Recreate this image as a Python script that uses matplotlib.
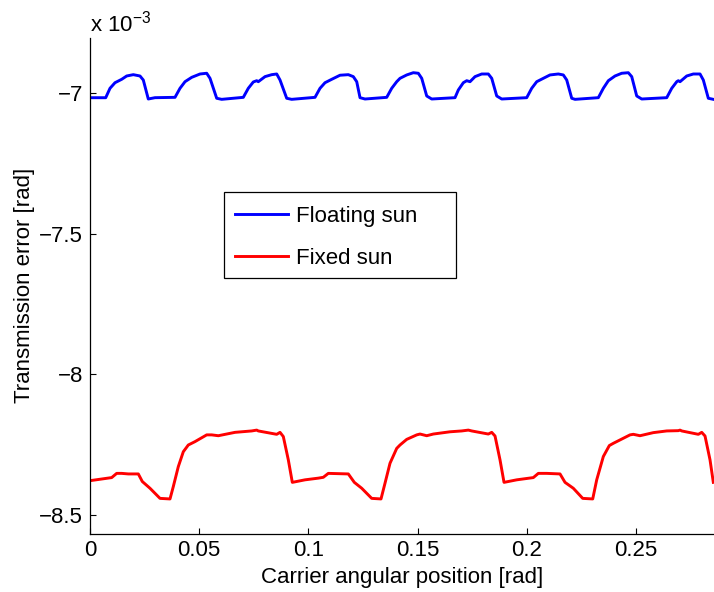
import numpy as np
import matplotlib
matplotlib.use("Agg")
import matplotlib.pyplot as plt
from matplotlib.patches import Rectangle

plt.rcParams['font.family'] = ['Liberation Sans', 'DejaVu Sans']
plt.rcParams['mathtext.fontset'] = 'custom'
plt.rcParams['mathtext.rm'] = 'Liberation Sans'
plt.rcParams['mathtext.it'] = 'Liberation Sans'

# transmission error, in 1e-3 rad, against carrier angular position in rad
x_floating = [0.0, 0.00719, 0.00916, 0.01145, 0.01451, 0.01680, 0.01983, 0.02289, 0.02440,
              0.02669, 0.02976, 0.03892, 0.04121, 0.04350, 0.04657, 0.05037, 0.05343, 0.05495,
              0.05801, 0.06030, 0.07019, 0.07248, 0.07477, 0.07633, 0.07706, 0.08013, 0.08320,
              0.08549, 0.08700, 0.09006, 0.09235, 0.10302, 0.10531, 0.10760, 0.11067, 0.11447,
              0.11827, 0.12056, 0.12212, 0.12363, 0.12592, 0.13585, 0.13814, 0.14043, 0.14194,
              0.14501, 0.14803, 0.15032, 0.15188, 0.15417, 0.15646, 0.16712, 0.16864, 0.17093,
              0.17248, 0.17399, 0.17628, 0.17935, 0.18237, 0.18393, 0.18622, 0.18851, 0.19995,
              0.20224, 0.20453, 0.20756, 0.21062, 0.21442, 0.21671, 0.21827, 0.22056, 0.22207,
              0.23274, 0.23503, 0.23732, 0.24038, 0.24345, 0.24647, 0.24803, 0.25032, 0.25261,
              0.26406, 0.26635, 0.26864, 0.26937, 0.27015, 0.27321, 0.27624, 0.27930, 0.28081,
              0.28310, 0.28539]
te_floating = [-7.015, -7.015, -6.9815, -6.9616, -6.9495, -6.9377, -6.933, -6.9377, -6.952,
               -7.0196, -7.0149, -7.0137, -6.9815, -6.958, -6.9425, -6.9306, -6.928, -6.946,
               -7.017, -7.0208, -7.0137, -6.9815, -6.959, -6.9545, -6.958, -6.940, -6.933,
               -6.9306, -6.952, -7.017, -7.0208, -7.0137, -6.9815, -6.9616, -6.9495, -6.935,
               -6.933, -6.940, -6.958, -7.0149, -7.0196, -7.0137, -6.9815, -6.958, -6.946,
               -6.934, -6.926, -6.928, -6.946, -7.0089, -7.0196, -7.0149, -6.9875, -6.9616,
               -6.9545, -6.958, -6.940, -6.9306, -6.9306, -6.946, -7.0089, -7.0196, -7.0149,
               -6.9815, -6.958, -6.946, -6.934, -6.9306, -6.934, -6.952, -7.017, -7.0208,
               -7.0149, -6.9815, -6.9545, -6.9377, -6.928, -6.926, -6.940, -7.0089, -7.0196,
               -7.0149, -6.9815, -6.958, -6.9545, -6.958, -6.9377, -6.9306, -6.9306, -6.952,
               -7.017, -7.0208]

x_fixed = [0.0, 0.00994, 0.01222, 0.01451, 0.01754, 0.02212, 0.02395, 0.02747, 0.03205,
           0.03663, 0.03814, 0.04043, 0.04272, 0.04501, 0.04808, 0.05343, 0.05572, 0.05875,
           0.06639, 0.07404, 0.07633, 0.07706, 0.08549, 0.08700, 0.08851, 0.09080, 0.09263,
           0.09844, 0.10453, 0.10682, 0.10911, 0.11827, 0.12102, 0.12441, 0.12898, 0.13324,
           0.13507, 0.13736, 0.14043, 0.14194, 0.14501, 0.14959, 0.15110, 0.15417, 0.15719,
           0.16484, 0.17019, 0.17322, 0.17477, 0.18237, 0.18393, 0.18544, 0.18773, 0.18956,
           0.19538, 0.20298, 0.20527, 0.20911, 0.21520, 0.21749, 0.22129, 0.22559, 0.23017,
           0.23200, 0.23503, 0.23778, 0.23961, 0.24725, 0.24876, 0.25183, 0.25792, 0.26406,
           0.26937, 0.27015, 0.27093, 0.27853, 0.28008, 0.28159, 0.28388, 0.28539]
te_fixed = [-8.378, -8.367, -8.352, -8.352, -8.354, -8.354, -8.381, -8.405, -8.441,
            -8.443, -8.399, -8.328, -8.275, -8.251, -8.239, -8.215, -8.215, -8.218,
            -8.206, -8.201, -8.198, -8.201, -8.213, -8.206, -8.221, -8.304, -8.384,
            -8.375, -8.369, -8.366, -8.352, -8.354, -8.384, -8.405, -8.441, -8.443,
            -8.387, -8.316, -8.263, -8.251, -8.231, -8.215, -8.212, -8.218, -8.212,
            -8.204, -8.201, -8.198, -8.201, -8.212, -8.206, -8.219, -8.304, -8.384,
            -8.375, -8.367, -8.352, -8.352, -8.354, -8.384, -8.405, -8.441, -8.443,
            -8.375, -8.292, -8.253, -8.245, -8.215, -8.213, -8.218, -8.207, -8.201,
            -8.200, -8.198, -8.201, -8.213, -8.206, -8.219, -8.304, -8.384]

x_ticks = [0, 0.05, 0.1, 0.15, 0.2, 0.25]
x_ticklabels = ['0', '0.05', '0.1', '0.15', '0.2', '0.25']
y_ticks = [-8.5, -8, -7.5, -7]
y_ticklabels = ['\u22128.5', '\u22128', '\u22127.5', '\u22127']

fs = 16
W, H = 714, 592
fig = plt.figure(figsize=(W/100, H/100), dpi=100)
ax = fig.add_axes([90/W, 58.5/H, 624/W, 495.5/H])

ax.plot(x_floating, te_floating, color=(0, 0, 1), lw=2.1, label='Floating sun')
ax.plot(x_fixed, te_fixed, color=(1, 0, 0), lw=2.1, label='Fixed sun')

ax.set_xlim(0, 0.2857)
ax.set_ylim(-8.566, -6.8025)
ax.set_xticks(x_ticks)
ax.set_xticklabels(x_ticklabels)
ax.set_yticks(y_ticks)
ax.set_yticklabels(y_ticklabels)
ax.tick_params(direction='in', length=4, width=0.8, labelsize=fs, pad=5, colors='black')

for s in ['top', 'right']:
    ax.spines[s].set_visible(False)
for s in ['left', 'bottom']:
    ax.spines[s].set_linewidth(0.9)
    ax.spines[s].set_color('black')

ax.set_xlabel('Carrier angular position [rad]', fontsize=fs, labelpad=4)
ax.set_ylabel('Transmission error [rad]', fontsize=fs, labelpad=3)

fig.text(90/W, 1 - 31.7/H, 'x 10$^{\u22123}$', fontsize=fs, ha='left', va='baseline')

# legend box, drawn separately so it can be wider than its entries
box = Rectangle((224/W, 1 - 278/H), (456 - 224)/W, (278 - 192)/H,
                transform=fig.transFigure, facecolor='white', edgecolor='black',
                linewidth=0.9, zorder=5, clip_on=False)
ax.add_patch(box)
leg = ax.legend(loc='upper left', bbox_to_anchor=(221/W, 1 - 192/H),
                bbox_transform=fig.transFigure, fontsize=fs, frameon=False,
                handlelength=2.4, handletextpad=0.35,
                borderpad=0.63, labelspacing=0.93, borderaxespad=0)
leg.set_zorder(6)

fig.savefig('out.png', dpi=100)
